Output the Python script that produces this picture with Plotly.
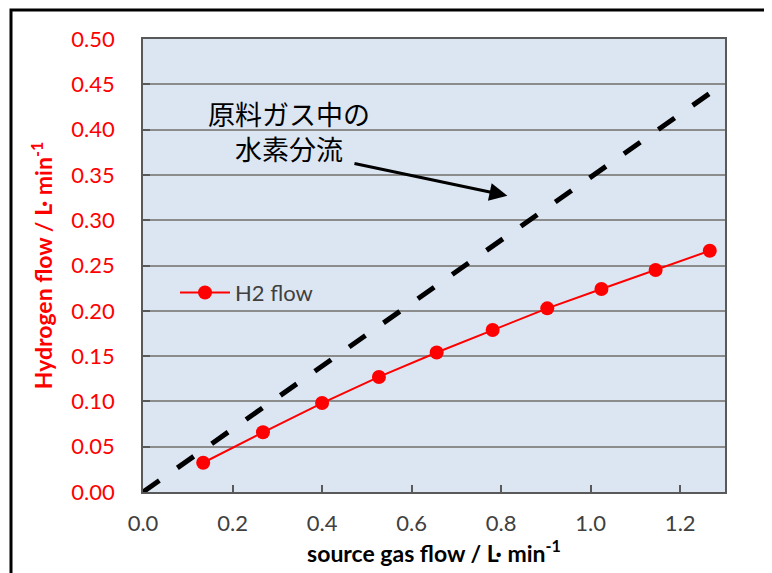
import plotly.graph_objects as go

# data
source_flow = [0.1345, 0.268, 0.400, 0.527, 0.656, 0.781, 0.903, 1.024, 1.145, 1.266]
h2_flow = [0.0323, 0.0659, 0.0982, 0.127, 0.154, 0.1788, 0.2027, 0.224, 0.245, 0.2663]
ref_x = [0.0, 1.266]
ref_y = [0.0, 0.44]
x_ticks = [0.0, 0.2, 0.4, 0.6, 0.8, 1.0, 1.2]
y_ticks = [0.00, 0.05, 0.10, 0.15, 0.20, 0.25, 0.30, 0.35, 0.40, 0.45, 0.50]

FONT = "Lato, 'Liberation Sans', sans-serif"
JP = "'Noto Sans CJK JP', sans-serif"

fig = go.Figure()
fig.add_trace(go.Scatter(x=ref_x, y=ref_y, mode="lines", showlegend=False,
                         line=dict(color="black", width=5, dash="20px,22px"),
                         hoverinfo="skip"))
fig.add_trace(go.Scatter(x=source_flow, y=h2_flow, mode="lines+markers", name="H2 flow",
                         line=dict(color="#FF0000", width=2),
                         marker=dict(color="#FF0000", size=14)))

fig.update_layout(
    width=764, height=565,
    margin=dict(l=135, r=47, t=31, b=81),
    paper_bgcolor="white",
    plot_bgcolor="#DCE6F2",
    font=dict(family=FONT, size=22, color="#404040"),
    legend=dict(x=0.055, y=0.44, xanchor="left", yanchor="middle",
                bgcolor="rgba(0,0,0,0)", font=dict(size=22, color="#404040"),
                itemwidth=50),
    xaxis=dict(range=[0, 1.3], tickvals=x_ticks, ticktext=[f"{v:.1f}" for v in x_ticks],
               showgrid=False, zeroline=False, showline=True, linecolor="#595959", linewidth=1.5,
               mirror=True, ticks="inside", ticklen=7, tickcolor="#595959", tickwidth=1.5,
               ticklabelstandoff=11,
               tickfont=dict(size=22, color="#404040"),
               title=dict(text="<b>source gas flow / L· min<sup>-1</sup></b>", standoff=10,
                          font=dict(size=23, color="black"))),
    yaxis=dict(range=[0, 0.5], tickvals=y_ticks, ticktext=[f"{v:.2f}" for v in y_ticks],
               showgrid=True, gridcolor="#8C8C8C", gridwidth=1.5, zeroline=False,
               showline=True, linecolor="#595959", linewidth=1.5, mirror=True,
               ticks="inside", ticklen=7, tickcolor="#595959", tickwidth=1.5,
               ticklabelstandoff=22,
               tickfont=dict(size=22, color="#FF0000"),
               title=dict(text="<b>Hydrogen flow / L· min<sup>-1</sup></b>", standoff=12,
                          font=dict(size=23, color="#FF0000"))),
    annotations=[
        dict(x=0.814, y=0.327, xref="x", yref="y", ax=0.469, ay=0.363, axref="x", ayref="y",
             text="", showarrow=True, arrowhead=2, arrowsize=1.2, arrowwidth=3, arrowcolor="black"),
        dict(x=0.325, y=0.398, xref="x", yref="y", showarrow=False,
             text="原料ガス中の<br>水素分流", align="center",
             font=dict(family=JP, size=27, color="black")),
    ],
    shapes=[dict(type="rect", xref="paper", yref="paper", x0=-0.2268, x1=1.3, y0=-0.4, y1=1.064,
                 line=dict(color="black", width=3), fillcolor="rgba(0,0,0,0)", layer="below")],
)
fig.write_html("out.html")
